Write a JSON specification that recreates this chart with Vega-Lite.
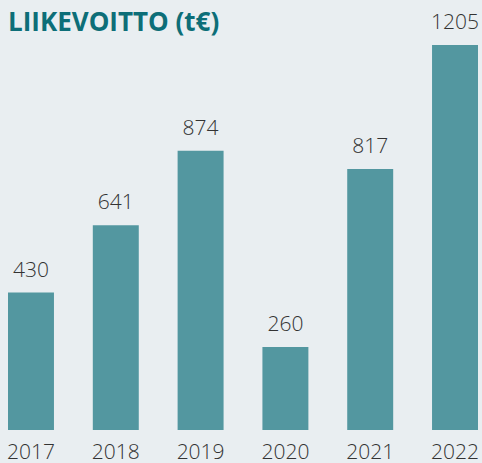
{
  "$schema": "https://vega.github.io/schema/vega-lite/v6.json",
  "autosize": "none",
  "width": 470,
  "height": 390,
  "padding": {"left": 8, "right": 4, "top": 40, "bottom": 33},
  "background": "#e9eef1",
  "config": {"view": {"stroke": null}, "font": "Open Sans"},
  "title": {
    "text": "LIIKEVOITTO (t€)",
    "anchor": "start",
    "frame": "group",
    "orient": "top",
    "baseline": "alphabetic",
    "offset": -45,
    "fontSize": 26,
    "fontWeight": "bold",
    "font": "Open Sans",
    "color": "#0d6e78"
  },
  "data": {
    "values": [
      {"year": "2017", "value": 430},
      {"year": "2018", "value": 641},
      {"year": "2019", "value": 874},
      {"year": "2020", "value": 260},
      {"year": "2021", "value": 817},
      {"year": "2022", "value": 1205}
    ]
  },
  "encoding": {
    "x": {
      "field": "year",
      "type": "nominal",
      "scale": {"paddingInner": 0.458, "paddingOuter": 0},
      "axis": {
        "title": null,
        "domain": false,
        "ticks": false,
        "labelAngle": 0,
        "labelFontSize": 21,
        "labelFontWeight": 300,
        "labelColor": "#333333",
        "labelBaseline": "alphabetic",
        "labelPadding": 28,
        "labelFont": "Open Sans"
      }
    },
    "y": {
      "field": "value",
      "type": "quantitative",
      "scale": {"domain": [0, 1220.6], "nice": false},
      "axis": null
    }
  },
  "layer": [
    {"mark": {"type": "bar", "color": "#5397a0"}},
    {
      "mark": {"type": "text", "baseline": "alphabetic", "dy": -16, "fontSize": 21, "fontWeight": 300, "color": "#333333", "font": "Open Sans"},
      "encoding": {"text": {"field": "value", "type": "quantitative", "format": "d"}}
    }
  ]
}
